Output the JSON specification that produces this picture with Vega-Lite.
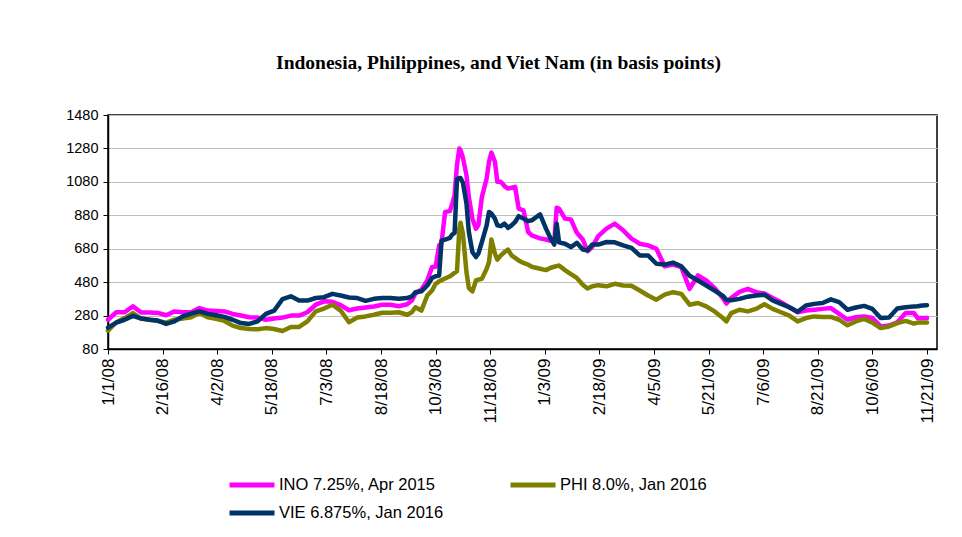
{
  "$schema": "https://vega.github.io/schema/vega-lite/v6.json",
  "width": 829,
  "height": 234,
  "autosize": {"type": "none"},
  "padding": {"left": 108, "top": 115, "right": 25, "bottom": 188},
  "background": "white",
  "title": {
    "text": "Indonesia, Philippines, and Viet Nam (in basis points)",
    "font": "Liberation Serif",
    "fontSize": 19.5,
    "fontWeight": "bold",
    "color": "black",
    "anchor": "middle",
    "dx": -24,
    "offset": 34
  },
  "data": {
    "format": {"parse": {"d": "date:'%Y-%m-%d'"}},
    "values": [
      {"d": "2008-01-01", "INO": 255, "PHI": 190, "VIE": 208},
      {"d": "2008-01-08", "INO": 300, "PHI": 240, "VIE": 238},
      {"d": "2008-01-15", "INO": 300, "PHI": 265, "VIE": 255},
      {"d": "2008-01-22", "INO": 335, "PHI": 295, "VIE": 278},
      {"d": "2008-01-29", "INO": 298, "PHI": 262, "VIE": 262},
      {"d": "2008-02-05", "INO": 298, "PHI": 255, "VIE": 255},
      {"d": "2008-02-12", "INO": 296, "PHI": 248, "VIE": 250},
      {"d": "2008-02-19", "INO": 282, "PHI": 238, "VIE": 230},
      {"d": "2008-02-26", "INO": 305, "PHI": 255, "VIE": 245},
      {"d": "2008-03-04", "INO": 300, "PHI": 262, "VIE": 275},
      {"d": "2008-03-11", "INO": 300, "PHI": 270, "VIE": 292},
      {"d": "2008-03-18", "INO": 325, "PHI": 295, "VIE": 305},
      {"d": "2008-03-25", "INO": 310, "PHI": 270, "VIE": 290},
      {"d": "2008-04-01", "INO": 308, "PHI": 260, "VIE": 282},
      {"d": "2008-04-08", "INO": 305, "PHI": 248, "VIE": 272},
      {"d": "2008-04-15", "INO": 290, "PHI": 220, "VIE": 255},
      {"d": "2008-04-22", "INO": 280, "PHI": 205, "VIE": 235},
      {"d": "2008-04-29", "INO": 270, "PHI": 200, "VIE": 230},
      {"d": "2008-05-06", "INO": 268, "PHI": 198, "VIE": 245},
      {"d": "2008-05-13", "INO": 255, "PHI": 205, "VIE": 290},
      {"d": "2008-05-20", "INO": 262, "PHI": 200, "VIE": 310},
      {"d": "2008-05-27", "INO": 268, "PHI": 188, "VIE": 378},
      {"d": "2008-06-03", "INO": 280, "PHI": 212, "VIE": 395},
      {"d": "2008-06-10", "INO": 280, "PHI": 212, "VIE": 370},
      {"d": "2008-06-17", "INO": 300, "PHI": 245, "VIE": 370},
      {"d": "2008-06-24", "INO": 345, "PHI": 305, "VIE": 385},
      {"d": "2008-07-01", "INO": 365, "PHI": 322, "VIE": 390},
      {"d": "2008-07-08", "INO": 362, "PHI": 345, "VIE": 410},
      {"d": "2008-07-15", "INO": 343, "PHI": 310, "VIE": 400},
      {"d": "2008-07-22", "INO": 312, "PHI": 240, "VIE": 388},
      {"d": "2008-07-29", "INO": 322, "PHI": 268, "VIE": 385},
      {"d": "2008-08-05", "INO": 328, "PHI": 275, "VIE": 368},
      {"d": "2008-08-12", "INO": 334, "PHI": 285, "VIE": 380},
      {"d": "2008-08-19", "INO": 345, "PHI": 297, "VIE": 385},
      {"d": "2008-08-26", "INO": 345, "PHI": 297, "VIE": 385},
      {"d": "2008-09-02", "INO": 336, "PHI": 300, "VIE": 380},
      {"d": "2008-09-09", "INO": 348, "PHI": 285, "VIE": 385},
      {"d": "2008-09-13", "INO": 370, "PHI": 300, "VIE": 395},
      {"d": "2008-09-16", "INO": 412, "PHI": 330, "VIE": 420},
      {"d": "2008-09-21", "INO": 435, "PHI": 310, "VIE": 425},
      {"d": "2008-09-26", "INO": 490, "PHI": 400, "VIE": 460},
      {"d": "2008-09-30", "INO": 570, "PHI": 430, "VIE": 505},
      {"d": "2008-10-03", "INO": 572, "PHI": 470, "VIE": 515},
      {"d": "2008-10-06", "INO": 700, "PHI": 485, "VIE": 520},
      {"d": "2008-10-08", "INO": 715, "PHI": 492, "VIE": 728},
      {"d": "2008-10-11", "INO": 900, "PHI": 502, "VIE": 735},
      {"d": "2008-10-15", "INO": 905, "PHI": 515, "VIE": 745},
      {"d": "2008-10-17", "INO": 950, "PHI": 525, "VIE": 765},
      {"d": "2008-10-19", "INO": 1000, "PHI": 535, "VIE": 775},
      {"d": "2008-10-21", "INO": 1180, "PHI": 545, "VIE": 1095},
      {"d": "2008-10-23", "INO": 1280, "PHI": 800, "VIE": 1103},
      {"d": "2008-10-24", "INO": 1270, "PHI": 835, "VIE": 1103},
      {"d": "2008-10-26", "INO": 1225, "PHI": 770, "VIE": 1075},
      {"d": "2008-10-29", "INO": 1120, "PHI": 540, "VIE": 950},
      {"d": "2008-10-31", "INO": 990, "PHI": 445, "VIE": 780},
      {"d": "2008-11-03", "INO": 860, "PHI": 425, "VIE": 660},
      {"d": "2008-11-06", "INO": 800, "PHI": 490, "VIE": 630},
      {"d": "2008-11-08", "INO": 820, "PHI": 495, "VIE": 650},
      {"d": "2008-11-11", "INO": 990, "PHI": 500, "VIE": 720},
      {"d": "2008-11-15", "INO": 1100, "PHI": 560, "VIE": 820},
      {"d": "2008-11-17", "INO": 1200, "PHI": 600, "VIE": 900},
      {"d": "2008-11-19", "INO": 1255, "PHI": 735, "VIE": 890},
      {"d": "2008-11-22", "INO": 1200, "PHI": 650, "VIE": 860},
      {"d": "2008-11-24", "INO": 1080, "PHI": 615, "VIE": 820},
      {"d": "2008-11-27", "INO": 1080, "PHI": 640, "VIE": 815},
      {"d": "2008-11-30", "INO": 1055, "PHI": 660, "VIE": 830},
      {"d": "2008-12-03", "INO": 1040, "PHI": 675, "VIE": 805},
      {"d": "2008-12-06", "INO": 1045, "PHI": 640, "VIE": 820},
      {"d": "2008-12-09", "INO": 1050, "PHI": 625, "VIE": 840},
      {"d": "2008-12-12", "INO": 920, "PHI": 610, "VIE": 875},
      {"d": "2008-12-16", "INO": 910, "PHI": 595, "VIE": 860},
      {"d": "2008-12-20", "INO": 780, "PHI": 585, "VIE": 845},
      {"d": "2008-12-23", "INO": 760, "PHI": 572, "VIE": 850},
      {"d": "2008-12-30", "INO": 742, "PHI": 560, "VIE": 885},
      {"d": "2009-01-04", "INO": 735, "PHI": 552, "VIE": 800},
      {"d": "2009-01-08", "INO": 728, "PHI": 566, "VIE": 740},
      {"d": "2009-01-11", "INO": 725, "PHI": 572, "VIE": 705},
      {"d": "2009-01-13", "INO": 925, "PHI": 576, "VIE": 830},
      {"d": "2009-01-15", "INO": 920, "PHI": 580, "VIE": 718},
      {"d": "2009-01-20", "INO": 860, "PHI": 552, "VIE": 710},
      {"d": "2009-01-25", "INO": 855, "PHI": 528, "VIE": 690},
      {"d": "2009-01-30", "INO": 775, "PHI": 505, "VIE": 715},
      {"d": "2009-02-04", "INO": 735, "PHI": 465, "VIE": 675},
      {"d": "2009-02-08", "INO": 665, "PHI": 442, "VIE": 670},
      {"d": "2009-02-12", "INO": 690, "PHI": 455, "VIE": 705},
      {"d": "2009-02-17", "INO": 755, "PHI": 462, "VIE": 705},
      {"d": "2009-02-24", "INO": 800, "PHI": 455, "VIE": 720},
      {"d": "2009-03-03", "INO": 830, "PHI": 470, "VIE": 718},
      {"d": "2009-03-10", "INO": 790, "PHI": 460, "VIE": 700},
      {"d": "2009-03-17", "INO": 740, "PHI": 458, "VIE": 685},
      {"d": "2009-03-24", "INO": 710, "PHI": 430, "VIE": 640},
      {"d": "2009-03-31", "INO": 700, "PHI": 400, "VIE": 640},
      {"d": "2009-04-07", "INO": 680, "PHI": 375, "VIE": 590},
      {"d": "2009-04-14", "INO": 575, "PHI": 405, "VIE": 585},
      {"d": "2009-04-21", "INO": 585, "PHI": 420, "VIE": 597},
      {"d": "2009-04-28", "INO": 570, "PHI": 410, "VIE": 575},
      {"d": "2009-05-05", "INO": 440, "PHI": 345, "VIE": 518},
      {"d": "2009-05-12", "INO": 520, "PHI": 355, "VIE": 490},
      {"d": "2009-05-19", "INO": 490, "PHI": 335, "VIE": 460},
      {"d": "2009-05-26", "INO": 445, "PHI": 305, "VIE": 430},
      {"d": "2009-06-02", "INO": 385, "PHI": 265, "VIE": 398},
      {"d": "2009-06-05", "INO": 352, "PHI": 245, "VIE": 375},
      {"d": "2009-06-09", "INO": 385, "PHI": 295, "VIE": 372},
      {"d": "2009-06-16", "INO": 422, "PHI": 315, "VIE": 380},
      {"d": "2009-06-23", "INO": 440, "PHI": 305, "VIE": 393},
      {"d": "2009-06-30", "INO": 420, "PHI": 320, "VIE": 400},
      {"d": "2009-07-07", "INO": 412, "PHI": 348, "VIE": 405},
      {"d": "2009-07-14", "INO": 385, "PHI": 320, "VIE": 370},
      {"d": "2009-07-21", "INO": 360, "PHI": 300, "VIE": 350},
      {"d": "2009-07-28", "INO": 330, "PHI": 280, "VIE": 330},
      {"d": "2009-08-04", "INO": 300, "PHI": 245, "VIE": 303},
      {"d": "2009-08-11", "INO": 310, "PHI": 265, "VIE": 340},
      {"d": "2009-08-18", "INO": 315, "PHI": 275, "VIE": 350},
      {"d": "2009-08-25", "INO": 320, "PHI": 272, "VIE": 355},
      {"d": "2009-09-01", "INO": 325, "PHI": 272, "VIE": 377},
      {"d": "2009-09-08", "INO": 290, "PHI": 255, "VIE": 360},
      {"d": "2009-09-15", "INO": 255, "PHI": 222, "VIE": 315},
      {"d": "2009-09-22", "INO": 270, "PHI": 245, "VIE": 328},
      {"d": "2009-09-29", "INO": 275, "PHI": 260, "VIE": 338},
      {"d": "2009-10-06", "INO": 265, "PHI": 238, "VIE": 320},
      {"d": "2009-10-13", "INO": 215, "PHI": 205, "VIE": 265},
      {"d": "2009-10-20", "INO": 220, "PHI": 215, "VIE": 268},
      {"d": "2009-10-27", "INO": 240, "PHI": 235, "VIE": 322},
      {"d": "2009-11-03", "INO": 295, "PHI": 248, "VIE": 330},
      {"d": "2009-11-10", "INO": 295, "PHI": 232, "VIE": 335},
      {"d": "2009-11-13", "INO": 266, "PHI": 238, "VIE": 336},
      {"d": "2009-11-17", "INO": 266, "PHI": 238, "VIE": 340},
      {"d": "2009-11-21", "INO": 266, "PHI": 238, "VIE": 342}
    ]
  },
  "transform": [{"fold": ["INO", "PHI", "VIE"], "as": ["s", "v"]}],
  "mark": {"type": "line", "strokeWidth": 4.5, "strokeJoin": "round", "strokeCap": "round"},
  "encoding": {
    "x": {
      "field": "d",
      "type": "temporal",
      "scale": {"domain": [{"year": 2008, "month": 1, "date": 1}, {"year": 2009, "month": 11, "date": 29, "hours": 10}]},
      "axis": {
        "values": [
          {"year": 2008, "month": 1, "date": 1},
          {"year": 2008, "month": 2, "date": 16},
          {"year": 2008, "month": 4, "date": 2},
          {"year": 2008, "month": 5, "date": 18},
          {"year": 2008, "month": 7, "date": 3},
          {"year": 2008, "month": 8, "date": 18},
          {"year": 2008, "month": 10, "date": 3},
          {"year": 2008, "month": 11, "date": 18},
          {"year": 2009, "month": 1, "date": 3},
          {"year": 2009, "month": 2, "date": 18},
          {"year": 2009, "month": 4, "date": 5},
          {"year": 2009, "month": 5, "date": 21},
          {"year": 2009, "month": 7, "date": 6},
          {"year": 2009, "month": 8, "date": 21},
          {"year": 2009, "month": 10, "date": 6},
          {"year": 2009, "month": 11, "date": 21}
        ],
        "format": "%-m/%-d/%y",
        "labelAngle": -90,
        "labelFont": "Liberation Sans",
        "labelFontSize": 17,
        "labelColor": "black",
        "labelPadding": 4,
        "labelOverlap": false,
        "labelFlush": false,
        "tickColor": "black",
        "tickSize": 5,
        "domainColor": "black",
        "domainWidth": 1.5,
        "grid": false,
        "title": null
      }
    },
    "y": {
      "field": "v",
      "type": "quantitative",
      "scale": {"domain": [80, 1480], "nice": false, "zero": false},
      "axis": {
        "values": [80, 280, 480, 680, 880, 1080, 1280, 1480],
        "format": "d",
        "title": null,
        "labelFont": "Liberation Sans",
        "labelFontSize": 14.5,
        "labelColor": "black",
        "labelPadding": 5,
        "tickColor": "black",
        "tickSize": 5,
        "domainColor": "black",
        "domainWidth": 1.5,
        "gridColor": "#c0c0c0",
        "gridWidth": 1
      }
    },
    "color": {
      "field": "s",
      "type": "nominal",
      "scale": {"domain": ["INO", "PHI", "VIE"], "range": ["#FF00FF", "#808000", "#003366"]},
      "legend": {
        "orient": "none",
        "legendX": 119,
        "legendY": 360,
        "direction": "horizontal",
        "columns": 2,
        "title": null,
        "symbolType": "stroke",
        "symbolSize": 2025,
        "symbolStrokeWidth": 5,
        "clipHeight": 20,
        "labelFont": "Liberation Sans",
        "labelFontSize": 16.5,
        "labelColor": "black",
        "labelOffset": 2,
        "labelLimit": 300,
        "rowPadding": 8,
        "columnPadding": 64,
        "labelExpr": "datum.label == 'INO' ? 'INO 7.25%, Apr 2015' : datum.label == 'PHI' ? 'PHI 8.0%, Jan 2016' : 'VIE 6.875%, Jan 2016'"
      }
    }
  },
  "config": {"view": {"stroke": "black", "strokeWidth": 1.5}}
}
